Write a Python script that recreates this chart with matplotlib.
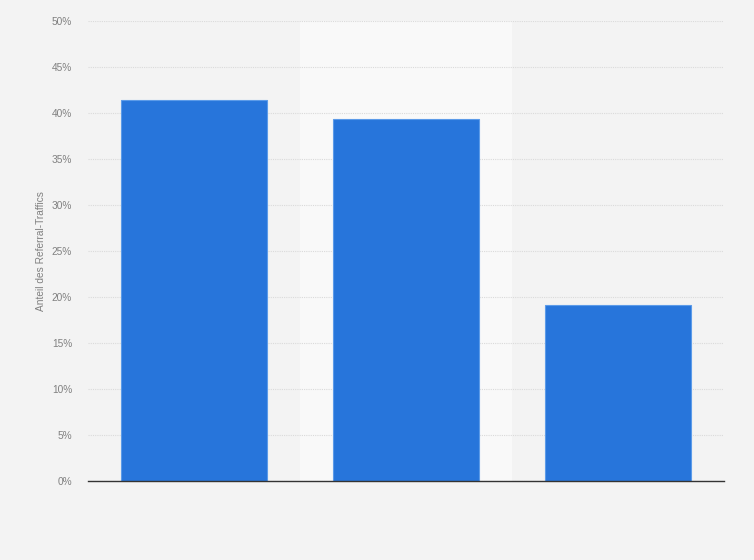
import matplotlib
matplotlib.use("Agg")
import matplotlib.pyplot as plt
import numpy as np

categories = ["", "", ""]
values = [41.4, 39.4, 19.1]
yticks = [0, 5, 10, 15, 20, 25, 30, 35, 40, 45, 50]
ytick_labels = [f"{t}%" for t in yticks]

plt.rcParams['font.family'] = ['Liberation Sans', 'DejaVu Sans']

fig = plt.figure(figsize=(7.54, 5.60), dpi=100, facecolor="#f3f3f3")
ax = fig.add_axes([88/754, 79/560, 636/754, 460/560])
ax.set_facecolor("#f3f3f3")

x = np.arange(len(categories))
ax.axvspan(0.5, 1.5, color="#f9f9f9", zorder=0, lw=0)
ax.bar(x, values, width=0.69, color="#2775db", edgecolor="#5c9be9", linewidth=0.8, zorder=3)

ax.set_xlim(-0.5, len(categories) - 0.5)
ax.set_ylim(0, 50)
ax.set_yticks(yticks)
ax.set_yticklabels(ytick_labels)
ax.set_xticks(x)
ax.set_xticklabels(categories)
ax.yaxis.grid(True, color="#dadada", linestyle=(0, (1, 1)), linewidth=0.8, zorder=1)
ax.set_axisbelow(True)
for s in ["top", "right", "left"]:
    ax.spines[s].set_visible(False)
ax.spines["bottom"].set_color("#333333")
ax.spines["bottom"].set_linewidth(1.0)
ax.spines["bottom"].set_zorder(4)
ax.tick_params(axis="both", length=0, labelsize=7.3, labelcolor="#808080", pad=11.5)
ax.set_ylabel("Anteil des Referral-Traffics", fontsize=7.3, color="#808080", labelpad=4)

fig.savefig("out.png", dpi=100, facecolor=fig.get_facecolor())
